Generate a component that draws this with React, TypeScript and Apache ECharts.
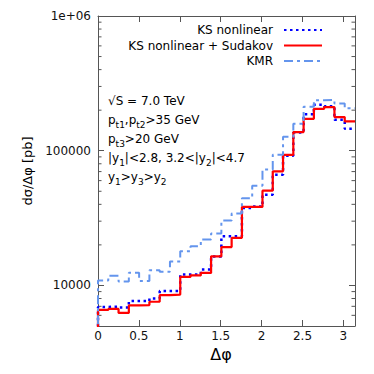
import React, { useEffect, useRef } from "react";
import * as echarts from "echarts";

// Histogram: 25 bins of equal width over [0, pi]
const NBINS = 25;
const X_MAX = Math.PI;
const Y_MIN = 5000;
const Y_MAX = 1000000;

const xTickLabels = ["0", "0.5", "1", "1.5", "2", "2.5", "3"];
const seriesNames = ["KS nonlinear", "KS nonlinear + Sudakov", "KMR"];

const ksNonlinear = [
  6930, 6955, 6870, 7650, 7650, 8010, 9075, 9075, 12060, 12060, 13140, 16400, 23190,
  23190, 37500, 38470, 47210, 66380, 91850, 136700, 186200, 219100, 213600, 169700, 145500,
];
const ksSudakov = [
  6585, 6698, 6255, 7110, 7145, 7570, 8475, 8550, 11560, 11860, 12380, 16450, 19280,
  22560, 38290, 38290, 50550, 70260, 93300, 137600, 172600, 204700, 210700, 177700, 164900,
];
const kmr = [
  10890, 11800, 10700, 12415, 10800, 12980, 12630, 15060, 17950, 19550, 21910, 24270, 30300,
  34150, 44460, 55050, 72690, 93300, 126960, 158500, 211800, 236600, 238700, 224000, 206400,
];

const minorTickValues = [
  6000, 7000, 8000, 9000,
  20000, 30000, 40000, 50000, 60000, 70000, 80000, 90000,
  200000, 300000, 400000, 500000, 600000, 700000, 800000, 900000,
];

const annotations = [
  "{n|√S = 7.0 TeV}",
  "{n|p}{s|t1}{n|,p}{s|t2}{n|>35 GeV}",
  "{n|p}{s|t3}{n|>20 GeV}",
  "{n||y}{s|1}{n||<2.8, 3.2<|y}{s|2}{n||<4.7}",
  "{n|y}{s|1}{n|>y}{s|3}{n|>y}{s|2}",
];

const FONT = "DejaVu Sans";
const AXIS_COLOR = "#555";

function stepPoints(values: number[]) {
  const w = X_MAX / NBINS;
  const pts: number[][] = [[0, 1]];
  values.forEach((v, i) => {
    pts.push([i * w, v]);
    pts.push([(i + 1) * w, v]);
  });
  return pts;
}

export default function App() {
  const ref = useRef<HTMLDivElement>(null);
  useEffect(() => {
    if (!ref.current) return;
    const chart = echarts.init(ref.current, null, { renderer: "svg" });

    const yLabel = (v: number) => {
      const l = Math.log10(v);
      if (Math.abs(l - Math.round(l)) > 1e-6) return "";
      const p = Math.round(l);
      if (p >= 6) return "1e+0" + p;
      return String(Math.pow(10, p));
    };
    const xLabel = (v: number) => {
      const r = Math.round(v * 2);
      if (Math.abs(v * 2 - r) > 1e-6 || r >= xTickLabels.length) return "";
      return xTickLabels[r];
    };

    const rich = {
      n: { fontSize: 12, lineHeight: 18, fontFamily: FONT, color: "#000" },
      s: { fontSize: 9, lineHeight: 9, verticalAlign: "bottom", fontFamily: FONT, color: "#000" },
    };

    const lineCommon = {
      type: "line",
      symbol: "none",
      showSymbol: false,
      clip: true,
      xAxisIndex: 0,
      yAxisIndex: 0,
    };

    const option: any = {
      animation: false,
      textStyle: { fontFamily: FONT },
      grid: { left: 98, right: 19, top: 16, bottom: 48, containLabel: false },
      legend: seriesNames.map((n, i) => ({
        data: [n],
        right: 51,
        top: 24 + 15.5 * i,
        orient: "horizontal",
        align: "right",
        itemWidth: 38,
        itemHeight: 10,
        padding: 0,
        selectedMode: false,
        itemStyle: { opacity: 0 },
        textStyle: { fontSize: 12, fontFamily: FONT, color: "#000", padding: [0, 6, 0, 0] },
      })),
      xAxis: [
        {
          type: "value",
          min: 0,
          max: X_MAX,
          interval: 0.5,
          position: "bottom",
          name: "Δφ",
          nameLocation: "middle",
          nameGap: 19,
          nameTextStyle: { fontSize: 16, fontFamily: FONT, color: "#000", padding: [0, 11, 0, 0] },
          axisLine: { onZero: false, lineStyle: { color: AXIS_COLOR, width: 1 } },
          axisTick: { inside: true, length: 6, lineStyle: { color: AXIS_COLOR } },
          axisLabel: { formatter: xLabel, margin: 4, fontSize: 12, color: "#111", showMaxLabel: false },
          splitLine: { show: false },
        },
        {
          type: "value",
          min: 0,
          max: X_MAX,
          interval: 0.5,
          position: "top",
          axisLine: { onZero: false, lineStyle: { color: AXIS_COLOR, width: 1 } },
          axisTick: { inside: true, length: 6, lineStyle: { color: AXIS_COLOR } },
          axisLabel: { show: false },
          splitLine: { show: false },
        },
      ],
      yAxis: [
        {
          type: "log",
          logBase: 10,
          min: Y_MIN,
          max: Y_MAX,
          position: "left",
          name: "dσ/Δφ [pb]",
          nameLocation: "middle",
          nameGap: 64,
          nameTextStyle: { fontSize: 13, fontFamily: FONT, color: "#000" },
          axisLine: { onZero: false, lineStyle: { color: AXIS_COLOR, width: 1 } },
          axisTick: { inside: true, length: 6, lineStyle: { color: AXIS_COLOR } },
          axisLabel: { formatter: yLabel, margin: 7, fontSize: 12, color: "#111", showMinLabel: false },
          splitLine: { show: false },
          minorTick: { show: false },
        },
        {
          type: "log",
          logBase: 10,
          min: Y_MIN,
          max: Y_MAX,
          position: "right",
          axisLine: { onZero: false, lineStyle: { color: AXIS_COLOR, width: 1 } },
          axisTick: { inside: true, length: 6, lineStyle: { color: AXIS_COLOR } },
          axisLabel: { show: false },
          splitLine: { show: false },
        },
      ],
      graphic: annotations.map((t, i) => ({
        type: "text",
        left: 108,
        top: 95 + 19 * i,
        style: { text: t, rich, fontSize: 12, fontFamily: FONT, fill: "#000" },
      })),
      series: [
        {
          type: "custom",
          name: "minorTicks",
          silent: true,
          clip: false,
          xAxisIndex: 0,
          yAxisIndex: 0,
          data: minorTickValues.map((v) => [0, v]),
          encode: { x: 0, y: 1 },
          renderItem: (params: any, api: any) => {
            const v = api.value(1);
            const l = api.coord([0, v]);
            const r = api.coord([X_MAX, v]);
            const st = { stroke: AXIS_COLOR, lineWidth: 1 };
            return {
              type: "group",
              children: [
                { type: "line", shape: { x1: l[0], y1: l[1], x2: l[0] + 3.5, y2: l[1] }, style: st },
                { type: "line", shape: { x1: r[0], y1: r[1], x2: r[0] - 3.5, y2: r[1] }, style: st },
              ],
            };
          },
        },
        {
          ...lineCommon,
          name: seriesNames[0],
          data: stepPoints(ksNonlinear),
          lineStyle: { color: "#0000ff", width: 2.5, type: [2.5, 3.5] },
          itemStyle: { color: "#0000ff" },
        },
        {
          ...lineCommon,
          name: seriesNames[1],
          data: stepPoints(ksSudakov),
          lineStyle: { color: "#ff0000", width: 2.2, type: "solid" },
          itemStyle: { color: "#ff0000" },
        },
        {
          ...lineCommon,
          name: seriesNames[2],
          data: stepPoints(kmr),
          lineStyle: { color: "#6495ed", width: 2, type: [9, 4, 3, 4] },
          itemStyle: { color: "#6495ed" },
        },
      ],
    };
    chart.setOption(option);
    return () => chart.dispose();
  }, []);
  return <div ref={ref} style={{ width: 374, height: 374, position: "absolute", left: 0, top: 0 }} />;
}
